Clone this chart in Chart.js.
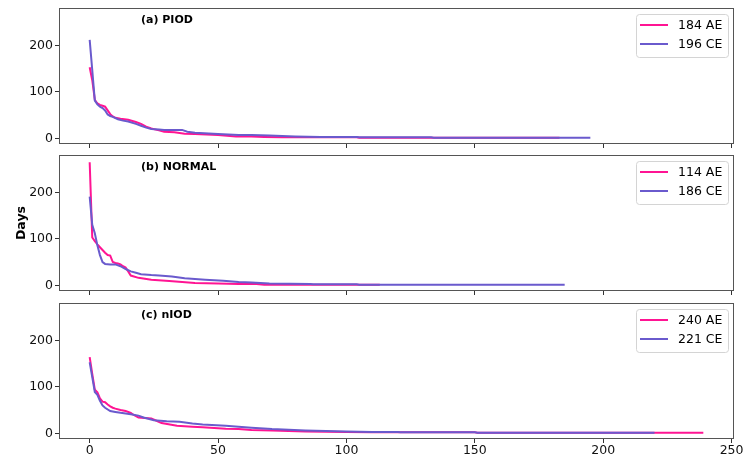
<!DOCTYPE html>
<html>
<head>
<meta charset="utf-8">
<script src="https://cdn.jsdelivr.net/npm/chart.js@4.4.1/dist/chart.umd.min.js"></script>
<style>
  html, body { margin: 0; padding: 0; background: #fff; }
  body { width: 745px; height: 457px; position: relative; overflow: hidden; }
  .panel { position: absolute; left: 0; width: 745px; }
</style>
</head>
<body>
<div class="panel" id="p1" style="top:4px;height:146px"><canvas id="c1"></canvas></div>
<div class="panel" id="p2" style="top:151px;height:146px"><canvas id="c2"></canvas></div>
<div class="panel" id="p3" style="top:299px;height:158px"><canvas id="c3"></canvas></div>
<script>
// [rank, days]; lines run straight between the points
const piodAE = [[0,153],[1,125],[2,83],[3,75],[4,72],[5,70],[6,68],[7,60],[8,52],[9,47],[10,44],[12,42],[15,40],[18,35],[20,31],[22,25],[24,21],[27,17],[29,14],[33,13],[37,10],[41,9],[50,7],[57,4],[63,4],[68,3],[75,2],[104,2],[105,1],[183,1]];
const piodCE = [[0,212],[1,147],[2,81],[3,73],[4,68],[5,65],[6,60],[7,51],[8,48],[9,46],[11,41],[13,38],[15,36],[18,31],[20,27],[22,23],[24,20],[27,19],[29,18],[36,18],[38,14],[41,12],[50,9],[58,7],[63,7],[70,6],[80,4],[90,3],[104,3],[105,2],[133,2],[134,1],[195,1]];

const normalAE = [[0,265],[1,103],[2,95],[3,88],[4,82],[5,76],[6,70],[7,65],[8,64],[9,50],[10,48],[11,47],[12,45],[13,41],[14,38],[15,30],[16,21],[19,16],[24,12],[31,9],[41,5],[50,4],[58,3],[65,3],[66,2],[68,1],[113,1]];
const normalCE = [[0,191],[1,130],[2,112],[3,86],[4,65],[5,50],[6,46],[8,45],[10,45],[12,41],[14,35],[16,30],[18,27],[20,24],[24,22],[27,21],[32,19],[37,15],[45,12],[52,10],[58,7],[63,6],[70,4],[86,3],[87,2],[104,2],[105,1],[185,1]];

const niodAE = [[0,164],[1,128],[2,94],[3,88],[4,75],[5,68],[6,67],[7,62],[8,58],[9,55],[10,53],[12,50],[14,48],[16,44],[17,40],[19,34],[24,32],[26,27],[28,22],[34,16],[40,14],[44,13],[53,10],[58,9],[63,7],[71,6],[84,4],[100,3],[110,2],[150,2],[151,1],[239,1]];
const niodCE = [[0,153],[1,121],[2,89],[3,83],[4,70],[5,60],[6,55],[8,48],[10,46],[12,44],[16,41],[19,38],[21,34],[25,28],[30,26],[35,25],[40,21],[44,19],[53,16],[58,14],[63,12],[71,9],[84,6],[100,4],[110,3],[120,3],[121,2],[150,2],[151,1],[220,1]];

const piodCounts = [184, 196];
const normalCounts = [114, 186];
const niodCounts = [240, 221];
const seriesNames = ['AE', 'CE'];

const xTicks = [0, 50, 100, 150, 200, 250];
const yTicks = [0, 100, 200];

const FONT = '"DejaVu Sans", sans-serif';
const AE_COLOR = '#ff1493';
const CE_COLOR = '#6a5acd';

// frame, panel label and legend box drawn on top of the lines
const panelDeco = {
    id: 'panelDeco',
    afterDatasetsDraw(chart, args, opts) {
        const { ctx, chartArea: a } = chart;
        ctx.save();

        ctx.strokeStyle = '#555';
        ctx.lineWidth = 1;
        ctx.strokeRect(Math.round(a.left) + 0.5, Math.round(a.top) + 0.5,
            Math.round(a.right - a.left) - 1, Math.round(a.bottom - a.top) - 1);

        ctx.fillStyle = '#000';
        ctx.font = 'bold 11px ' + FONT;
        ctx.textBaseline = 'middle';
        ctx.textAlign = 'left';
        ctx.fillText(opts.label, 141, a.top + 12);

        // legend
        const bw = 92, bh = 43;
        const bx = Math.round(a.right) - 6 - bw, by = Math.round(a.top) + 6;
        ctx.beginPath();
        ctx.roundRect(bx + 0.5, by + 0.5, bw, bh, 3);
        ctx.fillStyle = 'rgba(255,255,255,0.8)';
        ctx.fill();
        ctx.strokeStyle = '#d4d4d4';
        ctx.stroke();

        ctx.font = '12.5px ' + FONT;
        chart.data.datasets.forEach((ds, i) => {
            const y = by + 11 + i * 19;
            ctx.beginPath();
            ctx.moveTo(bx + 4, y);
            ctx.lineTo(bx + 32, y);
            ctx.strokeStyle = ds.borderColor;
            ctx.lineWidth = 2;
            ctx.stroke();
            ctx.fillStyle = '#000';
            ctx.fillText(ds.label, bx + 42, y + 1);
        });
        ctx.restore();
    }
};

function makePanel(canvasId, label, ae, ce, counts, showXLabels, showYTitle) {
    const ctx = document.getElementById(canvasId).getContext('2d');
    return new Chart(ctx, {
        type: 'line',
        data: {
            datasets: [{
                label: counts[0] + ' ' + seriesNames[0],
                data: ae.map(p => ({ x: p[0], y: p[1] })),
                borderColor: AE_COLOR,
                borderWidth: 2,
                pointRadius: 0,
                tension: 0,
                fill: false,
                order: 1
            }, {
                label: counts[1] + ' ' + seriesNames[1],
                data: ce.map(p => ({ x: p[0], y: p[1] })),
                borderColor: CE_COLOR,
                borderWidth: 2,
                pointRadius: 0,
                tension: 0,
                fill: false,
                order: 0
            }]
        },
        options: {
            responsive: true,
            maintainAspectRatio: false,
            animation: false,
            layout: { padding: { top: 4, right: 11, bottom: 0, left: 0 } },
            scales: {
                x: {
                    type: 'linear',
                    min: -11.95,
                    max: 250.95,
                    afterBuildTicks: s => { s.ticks = xTicks.map(v => ({ value: v })); },
                    afterFit: s => {
                        s.height = showXLabels ? 18 : 6;
                        s.paddingLeft = 0; s.paddingRight = 0;
                    },
                    grid: { drawOnChartArea: false, drawTicks: true, tickLength: 4, color: '#333', tickColor: '#333' },
                    border: { display: false },
                    ticks: {
                        display: showXLabels,
                        font: { family: FONT, size: 12.5 },
                        color: '#111',
                        padding: 0,
                        maxRotation: 0
                    }
                },
                y: {
                    type: 'linear',
                    min: -12.3,
                    max: 280.5,
                    afterBuildTicks: s => { s.ticks = yTicks.map(v => ({ value: v })); },
                    afterFit: s => {
                        s.width = 59;
                        s.paddingTop = 0; s.paddingBottom = 0;
                    },
                    grid: { drawOnChartArea: false, drawTicks: true, tickLength: 4, color: '#333', tickColor: '#333' },
                    border: { display: false },
                    ticks: {
                        font: { family: FONT, size: 12.5 },
                        color: '#111',
                        padding: 2
                    },
                    title: {
                        display: showYTitle,
                        text: 'Days',
                        color: '#000',
                        font: { family: FONT, size: 12.5, weight: 'bold' },
                        padding: { top: 14, bottom: 0 }
                    }
                }
            },
            plugins: {
                legend: { display: false },
                tooltip: { enabled: false },
                panelDeco: { label: label }
            }
        },
        plugins: [panelDeco]
    });
}

makePanel('c1', '(a) PIOD', piodAE, piodCE, piodCounts, false, false);
makePanel('c2', '(b) NORMAL', normalAE, normalCE, normalCounts, false, true);
makePanel('c3', '(c) nIOD', niodAE, niodCE, niodCounts, true, false);
</script>
</body>
</html>
